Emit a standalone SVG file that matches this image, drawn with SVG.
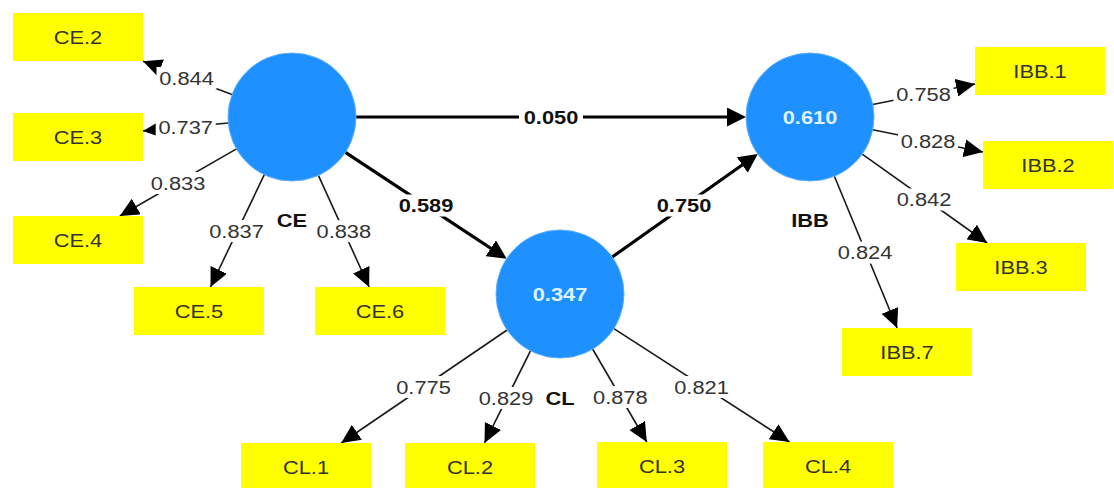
<svg xmlns="http://www.w3.org/2000/svg" width="1114" height="488" viewBox="0 0 1114 488">
<style>
  .box { fill: #FFFF00; }
  .circ { fill: #1E90FF; stroke: #5aaeff; stroke-width: 1; }
  .t { font-family: "Liberation Sans", Arial, sans-serif; font-size: 18.5px; text-anchor: middle; }
  .bl { fill: #333333; }
  .ld { fill: #333333; }
  .pl { fill: #111111; font-weight: bold; }
  .nm { fill: #111111; font-weight: bold; }
  .in { fill: #dff2ff; font-weight: bold; }
  .bg { fill: #ffffff; }
  .thin { stroke: #1a1a1a; stroke-width: 1.6; fill: none; marker-end: url(#ah); }
  .thick { stroke: #000000; stroke-width: 3.2; fill: none; marker-end: url(#ahk); }
</style>
<defs>
  <marker id="ah" viewBox="0 0 19 18" refX="19" refY="9" markerWidth="19" markerHeight="18" markerUnits="userSpaceOnUse" orient="auto">
    <path d="M0,0 L19,9 L0,18 z" fill="#000"/>
  </marker>
  <marker id="ahk" viewBox="0 0 19 19" refX="15" refY="9.5" markerWidth="19" markerHeight="19" markerUnits="userSpaceOnUse" orient="auto">
    <path d="M0,0 L19,9.5 L0,19 z" fill="#000"/>
  </marker>
</defs>
<rect width="1114" height="488" fill="#ffffff"/>

<g id="connectors">
  <!-- structural paths -->
  <line class="thick" x1="356" y1="117" x2="742" y2="117"/>
  <line class="thick" x1="345.4" y1="152.3" x2="503.3" y2="256.5"/>
  <line class="thick" x1="612.2" y1="257" x2="754.5" y2="156.3"/>
  <!-- CE loadings -->
  <line class="thin" x1="232" y1="94.6" x2="143" y2="61.3"/>
  <line class="thin" x1="228.3" y1="123" x2="143" y2="130.9"/>
  <line class="thin" x1="236.5" y1="148.9" x2="119.8" y2="216"/>
  <line class="thin" x1="264.3" y1="174.7" x2="210.5" y2="287"/>
  <line class="thin" x1="318.4" y1="175.3" x2="369.1" y2="287"/>
  <!-- IBB loadings -->
  <line class="thin" x1="872.7" y1="104.5" x2="975" y2="84"/>
  <line class="thin" x1="872.7" y1="129.7" x2="983" y2="152"/>
  <line class="thin" x1="862.2" y1="154.1" x2="987.2" y2="243"/>
  <line class="thin" x1="834.4" y1="176.2" x2="897.1" y2="328"/>
  <!-- CL loadings -->
  <line class="thin" x1="507.1" y1="330" x2="341.2" y2="443"/>
  <line class="thin" x1="530.5" y1="350.8" x2="484.5" y2="443"/>
  <line class="thin" x1="592.6" y1="349" x2="646.8" y2="442"/>
  <line class="thin" x1="613.9" y1="328.6" x2="789.5" y2="442"/>

  <!-- label backgrounds (break the lines) -->
  <rect class="bg" x="519" y="106" width="64" height="22"/>
  <rect class="bg" x="394" y="194.5" width="64" height="22"/>
  <rect class="bg" x="652" y="194.5" width="64" height="22"/>
  <rect class="bg" x="156.5" y="67" width="60" height="22"/>
  <rect class="bg" x="155.7" y="116" width="60" height="22"/>
  <rect class="bg" x="148" y="172" width="60" height="22"/>
  <rect class="bg" x="206.5" y="220" width="60" height="22"/>
  <rect class="bg" x="313.8" y="220.2" width="60" height="22"/>
  <rect class="bg" x="893.5" y="83.3" width="60" height="22"/>
  <rect class="bg" x="898" y="130.2" width="60" height="22"/>
  <rect class="bg" x="894" y="188.5" width="60" height="22"/>
  <rect class="bg" x="835" y="241.6" width="60" height="22"/>
  <rect class="bg" x="393.5" y="376" width="60" height="22"/>
  <rect class="bg" x="476" y="387" width="60" height="22"/>
  <rect class="bg" x="590.3" y="386" width="60" height="22"/>
  <rect class="bg" x="671.5" y="376" width="60" height="22"/>

  <!-- path coefficient labels -->
  <text class="t pl" transform="translate(551,123.6) scale(1.18,1)">0.050</text>
  <text class="t pl" transform="translate(426,212.1) scale(1.18,1)">0.589</text>
  <text class="t pl" transform="translate(684,212.1) scale(1.18,1)">0.750</text>
  <!-- loading labels -->
  <text class="t ld" transform="translate(186.5,84.6) scale(1.18,1)">0.844</text>
  <text class="t ld" transform="translate(185.7,133.6) scale(1.18,1)">0.737</text>
  <text class="t ld" transform="translate(178,189.6) scale(1.18,1)">0.833</text>
  <text class="t ld" transform="translate(236.5,237.6) scale(1.18,1)">0.837</text>
  <text class="t ld" transform="translate(343.8,237.8) scale(1.18,1)">0.838</text>
  <text class="t ld" transform="translate(923.5,100.9) scale(1.18,1)">0.758</text>
  <text class="t ld" transform="translate(928,147.8) scale(1.18,1)">0.828</text>
  <text class="t ld" transform="translate(924,206.1) scale(1.18,1)">0.842</text>
  <text class="t ld" transform="translate(865,259.2) scale(1.18,1)">0.824</text>
  <text class="t ld" transform="translate(423.5,393.6) scale(1.18,1)">0.775</text>
  <text class="t ld" transform="translate(506,404.6) scale(1.18,1)">0.829</text>
  <text class="t ld" transform="translate(620.3,403.6) scale(1.18,1)">0.878</text>
  <text class="t ld" transform="translate(701.5,393.6) scale(1.18,1)">0.821</text>
</g>

<g id="node-CE">
  <circle class="circ" cx="292" cy="117" r="64"/>
  <text class="t nm" transform="translate(292,227) scale(1.18,1)">CE</text>
</g>
<g id="node-CL">
  <circle class="circ" cx="560" cy="294" r="64"/>
  <text class="t in" transform="translate(560,300.6) scale(1.18,1)">0.347</text>
  <text class="t nm" transform="translate(560,405) scale(1.18,1)">CL</text>
</g>
<g id="node-IBB">
  <circle class="circ" cx="810" cy="117" r="64"/>
  <text class="t in" transform="translate(810,123.6) scale(1.18,1)">0.610</text>
  <text class="t nm" transform="translate(810,227) scale(1.18,1)">IBB</text>
</g>

<g id="node-CE2"><rect class="box" x="13" y="13" width="130" height="48"/><text class="t bl" transform="translate(78,44) scale(1.18,1)">CE.2</text></g>
<g id="node-CE3"><rect class="box" x="13" y="113" width="130" height="48"/><text class="t bl" transform="translate(78,144) scale(1.18,1)">CE.3</text></g>
<g id="node-CE4"><rect class="box" x="13" y="216" width="130" height="48"/><text class="t bl" transform="translate(78,247) scale(1.18,1)">CE.4</text></g>
<g id="node-CE5"><rect class="box" x="134" y="287" width="130" height="48"/><text class="t bl" transform="translate(199,318) scale(1.18,1)">CE.5</text></g>
<g id="node-CE6"><rect class="box" x="315" y="287" width="130" height="48"/><text class="t bl" transform="translate(380,318) scale(1.18,1)">CE.6</text></g>

<g id="node-IBB1"><rect class="box" x="975" y="47" width="130" height="48"/><text class="t bl" transform="translate(1040,78) scale(1.18,1)">IBB.1</text></g>
<g id="node-IBB2"><rect class="box" x="983" y="141" width="130" height="48"/><text class="t bl" transform="translate(1048,172) scale(1.18,1)">IBB.2</text></g>
<g id="node-IBB3"><rect class="box" x="956" y="243" width="130" height="48"/><text class="t bl" transform="translate(1021,274) scale(1.18,1)">IBB.3</text></g>
<g id="node-IBB7"><rect class="box" x="842" y="328" width="130" height="48"/><text class="t bl" transform="translate(907,359) scale(1.18,1)">IBB.7</text></g>

<g id="node-CL1"><rect class="box" x="241" y="443" width="130" height="48"/><text class="t bl" transform="translate(306,474) scale(1.18,1)">CL.1</text></g>
<g id="node-CL2"><rect class="box" x="405" y="443" width="130" height="48"/><text class="t bl" transform="translate(470,474) scale(1.18,1)">CL.2</text></g>
<g id="node-CL3"><rect class="box" x="597" y="442" width="130" height="48"/><text class="t bl" transform="translate(662,473) scale(1.18,1)">CL.3</text></g>
<g id="node-CL4"><rect class="box" x="763" y="442" width="130" height="48"/><text class="t bl" transform="translate(828,473) scale(1.18,1)">CL.4</text></g>
</svg>
